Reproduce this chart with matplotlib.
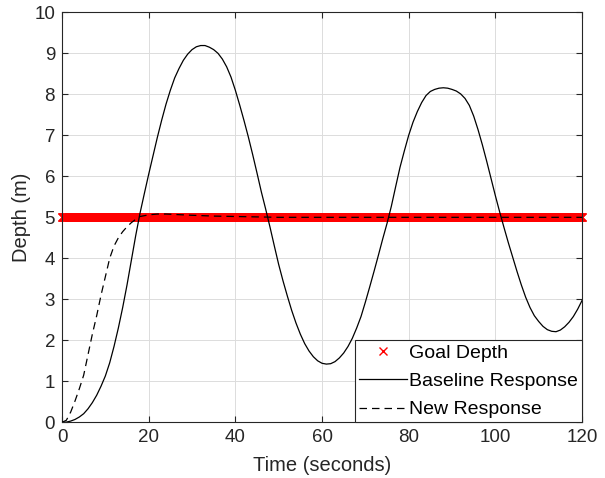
import numpy as np
import matplotlib
matplotlib.use("Agg")
import matplotlib.pyplot as plt

plt.rcParams['font.family'] = ['Liberation Sans', 'DejaVu Sans']

# Baseline response, read every 1 s
t_base = list(range(0, 121))
d_base = [0, 0.005, 0.03, 0.07, 0.13, 0.21, 0.33, 0.48, 0.66, 0.88,
          1.13, 1.45, 1.85, 2.3, 2.8, 3.35, 3.95, 4.55, 5.1, 5.58,
          6.05, 6.5, 6.95, 7.37, 7.76, 8.1, 8.4, 8.63, 8.83, 8.98,
          9.09, 9.16, 9.19, 9.19, 9.15, 9.09, 9.0, 8.86, 8.67, 8.42,
          8.1, 7.74, 7.36, 6.96, 6.53, 6.08, 5.62, 5.2, 4.76, 4.3,
          3.85, 3.45, 3.08, 2.73, 2.42, 2.15, 1.92, 1.74, 1.6, 1.5,
          1.44, 1.42, 1.43, 1.48, 1.57, 1.69, 1.85, 2.05, 2.3, 2.58,
          2.93, 3.3, 3.68, 4.07, 4.47, 4.85, 5.27, 5.75, 6.22, 6.62,
          7.0, 7.32, 7.58, 7.8, 7.97, 8.07, 8.12, 8.15, 8.16, 8.15,
          8.12, 8.08, 8.01, 7.9, 7.73, 7.47, 7.14, 6.77, 6.37, 5.95,
          5.53, 5.13, 4.75, 4.38, 4.03, 3.68, 3.35, 3.05, 2.8, 2.6,
          2.46, 2.34, 2.26, 2.22, 2.21, 2.25, 2.33, 2.44, 2.58, 2.76,
          2.97]

# New response
t_new = [0, 1, 2, 3, 4, 5, 6, 7, 8, 9, 10, 11, 12, 13, 14, 15, 16, 17, 18, 20, 22, 24,
         26, 28, 30, 35, 40, 50, 60, 70, 80, 90, 100, 110, 120]
d_new = [0, 0.05, 0.25, 0.52, 0.82, 1.15, 1.65, 2.15, 2.6, 3.1, 3.55, 4.0, 4.3, 4.5,
         4.65, 4.77, 4.87, 4.95, 5.02, 5.06, 5.08, 5.08, 5.07, 5.06, 5.05, 5.03, 5.02,
         5.0, 5.0, 5.0, 5.0, 5.0, 5.0, 5.0, 5.0]

goal_depth = 5
t_goal = np.linspace(0, 120, 1201)

fig = plt.figure(figsize=(6.05, 4.78), dpi=100)
ax = fig.add_axes([0.1025, 0.1165, 0.8595, 0.8577])

ax.plot(t_goal, np.full_like(t_goal, goal_depth), 'x', color='red', ms=6, mew=1,
        clip_on=False, label='Goal Depth', zorder=2)
ax.plot(t_base, d_base, '-', color='black', lw=0.9, label='Baseline Response', zorder=3)
ax.plot(t_new, d_new, '--', color='black', lw=0.9, dashes=(6, 4), label='New Response', zorder=3)

ax.set_xlim(0, 120)
ax.set_ylim(0, 10)
ax.set_xticks(range(0, 121, 20))
ax.set_yticks(range(0, 11))
ax.grid(True, color='#dcdcdc', lw=0.7)
ax.set_axisbelow(True)
ax.tick_params(direction='in', top=True, right=True, labelsize=13.5, colors='#262626',
               length=4, pad=5)
for s in ax.spines.values():
    s.set_color('#262626')
    s.set_linewidth(0.8)

ax.set_xlabel('Time (seconds)', fontsize=14.5, color='#262626', labelpad=7)
ax.set_ylabel('Depth (m)', fontsize=14.5, color='#262626', labelpad=2)

leg = ax.legend(loc='lower right', fontsize=14, fancybox=False, framealpha=1,
                edgecolor='#262626', borderaxespad=0, handlelength=2.5,
                handletextpad=0.1, borderpad=0.2, labelspacing=0.55)
leg.get_frame().set_linewidth(0.8)

fig.savefig('out.png', dpi=100)
